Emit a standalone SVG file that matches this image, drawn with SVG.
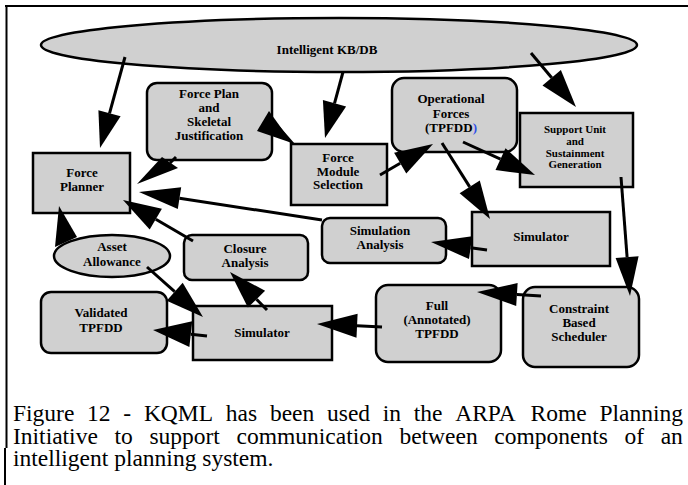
<svg xmlns="http://www.w3.org/2000/svg" width="688" height="485" viewBox="0 0 688 485">
  <style>
    .shape { fill: #d0d0d0; stroke: #000; stroke-width: 2.5; }
    .lbl { font-family: "Liberation Serif", "Times New Roman", serif; font-weight: bold; font-size: 13px; text-anchor: middle; fill: #000; }
    .sm { font-size: 11px; }
    .wire { stroke: #000; stroke-width: 3; fill: none; }
    .head { fill: #000; stroke: none; }
    .cap { font-family: "Liberation Serif", "Times New Roman", serif; font-size: 23.5px; fill: #000; }
    .frame { stroke: #000; stroke-width: 2; fill: none; }
  </style>

  <rect width="688" height="485" fill="#fff"/>

  <!-- figure frame -->
  <g id="frame">
    <line class="frame" x1="5" y1="6" x2="688" y2="6"/>
    <line class="frame" x1="6.5" y1="5" x2="6.5" y2="448"/>
    <line class="frame" x1="5" y1="448" x2="5" y2="485"/>
  </g>

  <g id="kb">
    <ellipse class="shape" cx="339" cy="45" rx="298" ry="27"/>
    <text class="lbl" x="327" y="54">Intelligent KB/DB</text>
  </g>

  <g id="force-plan">
    <rect class="shape" x="147" y="83" width="125" height="77" rx="10"/>
    <text class="lbl" x="209" y="98">Force Plan</text>
    <text class="lbl" x="209" y="112">and</text>
    <text class="lbl" x="209" y="126">Skeletal</text>
    <text class="lbl" x="209" y="140">Justification</text>
  </g>

  <g id="force-planner">
    <rect class="shape" x="33" y="153" width="97" height="60"/>
    <text class="lbl" x="82" y="177">Force</text>
    <text class="lbl" x="82" y="191">Planner</text>
  </g>

  <g id="force-module-selection">
    <rect class="shape" x="291" y="144" width="96" height="61"/>
    <text class="lbl" x="338" y="162">Force</text>
    <text class="lbl" x="338" y="175.5">Module</text>
    <text class="lbl" x="338" y="189">Selection</text>
  </g>

  <g id="operational-forces">
    <rect class="shape" x="392" y="78" width="125" height="74" rx="12"/>
    <text class="lbl" x="451" y="103">Operational</text>
    <text class="lbl" x="451" y="118">Forces</text>
    <text class="lbl" x="451" y="132">(TPFDD<tspan fill="#2f4fe8">)</tspan></text>
  </g>

  <g id="support-unit">
    <rect class="shape" x="520" y="113" width="113" height="74"/>
    <text class="lbl sm" x="575" y="133">Support Unit</text>
    <text class="lbl sm" x="575" y="145">and</text>
    <text class="lbl sm" x="575" y="157">Sustainment</text>
    <text class="lbl sm" x="575" y="168">Generation</text>
  </g>

  <g id="simulation-analysis">
    <rect class="shape" x="322" y="218" width="124" height="45" rx="8"/>
    <text class="lbl" x="380" y="235">Simulation</text>
    <text class="lbl" x="380" y="249">Analysis</text>
  </g>

  <g id="simulator-upper">
    <rect class="shape" x="472" y="212" width="138" height="54"/>
    <text class="lbl" x="541" y="241">Simulator</text>
  </g>

  <g id="constraint-scheduler">
    <rect class="shape" x="523" y="287" width="116" height="80" rx="12"/>
    <text class="lbl" x="579" y="313">Constraint</text>
    <text class="lbl" x="579" y="327">Based</text>
    <text class="lbl" x="579" y="341">Scheduler</text>
  </g>

  <g id="full-tpfdd">
    <rect class="shape" x="376" y="285" width="125" height="77" rx="12"/>
    <text class="lbl" x="437" y="310">Full</text>
    <text class="lbl" x="437" y="324">(Annotated)</text>
    <text class="lbl" x="437" y="338">TPFDD</text>
  </g>

  <g id="simulator-lower">
    <rect class="shape" x="193" y="306" width="139" height="54"/>
    <text class="lbl" x="262" y="337">Simulator</text>
  </g>

  <g id="validated-tpfdd">
    <rect class="shape" x="41" y="292" width="126" height="61" rx="10"/>
    <text class="lbl" x="101" y="317">Validated</text>
    <text class="lbl" x="101" y="332">TPFDD</text>
  </g>

  <g id="closure-analysis">
    <rect class="shape" x="184" y="235" width="124" height="45" rx="8"/>
    <text class="lbl" x="245" y="253">Closure</text>
    <text class="lbl" x="245" y="267">Analysis</text>
  </g>

  <g id="asset-allowance">
    <ellipse class="shape" cx="112" cy="256" rx="58" ry="21"/>
    <text class="lbl" x="112" y="251">Asset</text>
    <text class="lbl" x="112" y="265.5">Allowance</text>
  </g>

  <!-- connectors: shaft plus filled triangular head -->
  <g id="connectors">
    <line class="wire" x1="125" y1="57" x2="109.5" y2="113.3"/>
    <polygon class="head" points="100,148 98.4,110.3 120.6,116.3"/>

    <line class="wire" x1="343" y1="72" x2="334.5" y2="103.3"/>
    <polygon class="head" points="325,138 322.9,100.1 346.1,106.5"/>

    <line class="wire" x1="531" y1="53" x2="551.7" y2="77.8"/>
    <polygon class="head" points="576,107 542.5,85.5 560.9,70.1"/>

    <line class="wire" x1="293" y1="144" x2="279" y2="128"/>
    <polygon class="head" points="257,131 269,111 292,143"/>

    <line class="wire" x1="380" y1="175" x2="400.2" y2="163.2"/>
    <polygon class="head" points="433,144 406.3,173.6 394.1,152.8"/>

    <line class="wire" x1="463" y1="142" x2="500.5" y2="159.2"/>
    <polygon class="head" points="535,175 495.5,170.1 505.5,148.3"/>

    <line class="wire" x1="442" y1="143" x2="469.7" y2="186.9"/>
    <polygon class="head" points="490,219 459.6,193.3 479.8,180.5"/>

    <line class="wire" x1="621" y1="177" x2="627.1" y2="257.1"/>
    <polygon class="head" points="630,296 615.6,258 638.6,256.2"/>

    <line class="wire" x1="487" y1="250" x2="470.6" y2="247.7"/>
    <polygon class="head" points="431,242 472.2,236.3 469,259.1"/>

    <line class="wire" x1="322" y1="220" x2="179.5" y2="198.2"/>
    <polygon class="head" points="139,192 181.2,187.3 177.8,209.1"/>

    <line class="wire" x1="176" y1="157" x2="170" y2="163"/>
    <polygon class="head" points="137,184 162,157 178,168"/>

    <line class="wire" x1="193" y1="241" x2="155.8" y2="219.2"/>
    <polygon class="head" points="123,200 161.9,208.8 149.7,229.6"/>

    <polygon class="head" points="59,206 55,247 77,237"/>

    <line class="wire" x1="147" y1="267" x2="174.7" y2="291.7"/>
    <polygon class="head" points="203,317 166.7,300.7 182.7,282.7"/>

    <line class="wire" x1="267" y1="310" x2="256.5" y2="299.2"/>
    <polygon class="head" points="230,272 265.1,290.8 247.9,307.6"/>

    <line class="wire" x1="207" y1="336" x2="190.8" y2="334.2"/>
    <polygon class="head" points="153,330 192.2,321.3 189.4,347.1"/>

    <line class="wire" x1="382" y1="327" x2="357" y2="325.8"/>
    <polygon class="head" points="317,324 357.6,313.8 356.5,337.8"/>

    <line class="wire" x1="541" y1="296" x2="516.9" y2="294.5"/>
    <polygon class="head" points="477,292 517.6,283 516.2,306"/>
  </g>

  <!-- caption, justified word by word -->
  <g id="caption">
    <text class="cap" y="421"><tspan x="13">Figure</tspan> <tspan x="87.1">12</tspan> <tspan x="123.3">-</tspan> <tspan x="143.9">KQML</tspan> <tspan x="225.8">has</tspan> <tspan x="269.9">been</tspan> <tspan x="327">used</tspan> <tspan x="382.8">in</tspan> <tspan x="413.8">the</tspan> <tspan x="455.2">ARPA</tspan> <tspan x="530.6">Rome</tspan> <tspan x="599.5">Planning</tspan></text>
    <text class="cap" y="443.5"><tspan x="13">Initiative</tspan> <tspan x="114.5">to</tspan> <tspan x="149.4">support</tspan> <tspan x="236.5">communication</tspan> <tspan x="399.4">between</tspan> <tspan x="494.3">components</tspan> <tspan x="624.5">of</tspan> <tspan x="660.7">an</tspan></text>
    <text class="cap" x="13" y="466">intelligent planning system.</text>
  </g>
</svg>
